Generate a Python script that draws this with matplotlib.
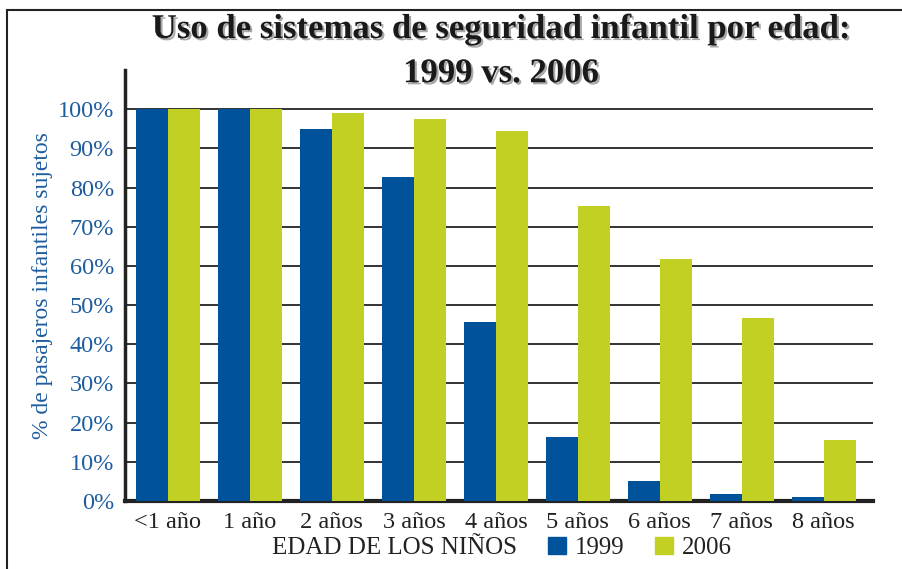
import matplotlib
matplotlib.use("Agg")
import matplotlib.pyplot as plt
import matplotlib.patheffects as pe
from matplotlib.patches import Rectangle, Patch
import numpy as np

edades = ["<1 año", "1 año", "2 años", "3 años", "4 años", "5 años", "6 años", "7 años", "8 años"]
uso_1999 = [100, 100, 95, 82.7, 45.8, 16.3, 5.2, 1.7, 0.9]
uso_2006 = [100, 100, 99, 97.6, 94.5, 75.3, 61.7, 46.8, 15.5]

azul = "#00529b"
verde = "#c2cf23"
azul_txt = "#1e5c9e"
serif = ["Liberation Serif", "DejaVu Serif"]

fig = plt.figure(figsize=(9.02, 5.69), dpi=100)
ax = fig.add_axes([125 / 902, 1 - 501 / 569, (873 - 125) / 902, (501 - 70) / 569])

x = np.arange(len(edades))
w = 0.39
ax.bar(x - w / 2, uso_1999, width=w, color=azul, zorder=3)
ax.bar(x + w / 2, uso_2006, width=w, color=verde, zorder=3)

ax.set_xlim(-0.524, 8.6)
ax.set_ylim(0, 110)
ax.set_yticks(np.arange(0, 101, 10))
ax.set_yticklabels([f"{v}%" for v in range(0, 101, 10)], color=azul_txt,
                   fontsize=17.5, family=serif)
ax.set_xticks(x)
ax.set_xticklabels(edades, fontsize=17.5, family=serif, color="#222222")
ax.tick_params(axis="y", length=0, pad=8)
ax.tick_params(axis="x", length=0, pad=8)
ax.grid(axis="y", color="#333333", linewidth=1.4, zorder=0)
ax.spines["top"].set_visible(False)
ax.spines["right"].set_visible(False)
ax.spines["left"].set_linewidth(2.5)
ax.spines["bottom"].set_linewidth(3)
ax.spines["left"].set_color("#222222")
ax.spines["bottom"].set_color("#222222")

ax.set_ylabel("% de pasajeros infantiles sujetos", color=azul_txt, fontsize=17,
              family=serif, labelpad=3)

fig.text(394 / 902, 1 - 548 / 569, "EDAD DE LOS NIÑOS", ha="center", va="center",
         fontsize=18, family=serif, color="#222222")
handles = [Patch(color=azul, label="1999"), Patch(color=verde, label="2006")]
leg = fig.legend(handles=handles, ncol=2, loc="center left",
                 bbox_to_anchor=(548 / 902, 1 - 548 / 569), frameon=False,
                 prop={"family": serif, "size": 18}, handlelength=0.72,
                 handleheight=0.7, handletextpad=0.36, columnspacing=1.2,
                 borderpad=0, borderaxespad=0)
for t in leg.get_texts():
    t.set_color("#222222")

fig.text(501 / 902, 1 - 13 / 569, "Uso de sistemas de seguridad infantil por edad:\n1999 vs. 2006",
         ha="center", va="top", fontsize=25, fontweight="bold", family=serif,
         color="#1a1a1a", linespacing=1.45,
         path_effects=[pe.SimplePatchShadow(offset=(1.5, -1.5), alpha=0.35), pe.Normal()])

# marco exterior
fig.patches.append(Rectangle((7 / 902, -0.1), 1.2, 1 - 10 / 569 + 0.1,
                             transform=fig.transFigure, fill=False,
                             edgecolor="#222222", linewidth=1.5))

fig.savefig("out.png", dpi=100)
